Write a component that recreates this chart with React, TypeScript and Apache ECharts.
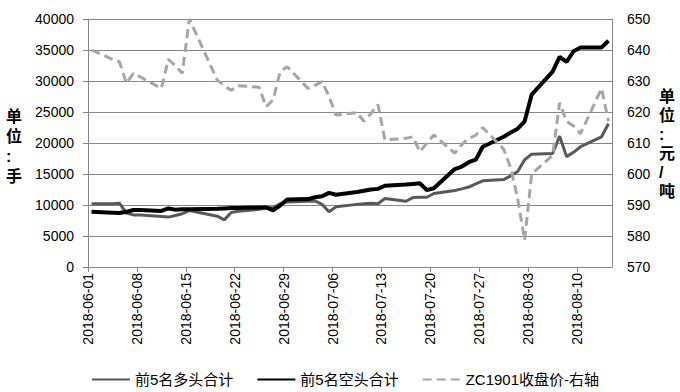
import React, { useEffect, useRef } from "react";
import * as echarts from "echarts";

const dates = [
  "2018-06-01", "2018-06-04", "2018-06-05", "2018-06-06", "2018-06-07", "2018-06-08",
  "2018-06-11", "2018-06-12", "2018-06-13", "2018-06-14", "2018-06-15",
  "2018-06-19", "2018-06-20", "2018-06-21", "2018-06-22",
  "2018-06-25", "2018-06-26", "2018-06-27", "2018-06-28", "2018-06-29",
  "2018-07-02", "2018-07-03", "2018-07-04", "2018-07-05", "2018-07-06",
  "2018-07-09", "2018-07-10", "2018-07-11", "2018-07-12", "2018-07-13",
  "2018-07-16", "2018-07-17", "2018-07-18", "2018-07-19", "2018-07-20",
  "2018-07-23", "2018-07-24", "2018-07-25", "2018-07-26", "2018-07-27",
  "2018-07-30", "2018-07-31", "2018-08-01", "2018-08-02", "2018-08-03",
  "2018-08-06", "2018-08-07", "2018-08-08", "2018-08-09", "2018-08-10",
  "2018-08-13", "2018-08-14",
];

const longTotal = [
  10200, 10200, 10300, 8700, 8400, 8400,
  8150, 8050, 8300, 8600, 9100,
  8200, 7600, 8800, 9000,
  9300, 9500, 9600, 10200, 10500,
  10600, 10650, 10100, 8900, 9700,
  10100, 10200, 10300, 10200, 11050,
  10600, 11200, 11250, 11250, 11850,
  12350, 12600, 12900, 13400, 13900,
  14100, 14700, 15400, 17300, 18200,
  18300, 21100, 17800, 18500, 19400,
  21000, 23100,
];

const shortTotal = [
  8900, 8750, 8700, 8900, 9200, 9200,
  9050, 9450, 9250, 9300, 9300,
  9400, 9450, 9500, 9500,
  9600, 9600, 9150, 9900, 10900,
  10950, 11250, 11400, 11950, 11650,
  12100, 12300, 12500, 12600, 13100,
  13300, 13400, 13500, 12400, 12700,
  15800, 16200, 16900, 17300, 19400,
  21000, 21700, 22300, 23500, 27800,
  31500, 33900, 33100, 34800, 35400,
  35400, 36500,
];

const closePrice = [
  640, 637, 636.2, 629.3, 632.5, 631.3,
  627.6, 637, 635, 632.5, 650,
  630.3, 628.5, 627, 628.5,
  628, 621.7, 624, 633, 634.6,
  627.6, 628.6, 629.8, 625, 619,
  619.8, 617, 619.5, 622.4, 611,
  611.5, 612, 607.2, 610, 612.6,
  606.7, 609.5, 611.5, 612.5, 615,
  608, 602, 592, 578.7, 600,
  606, 623, 617, 615.5, 613,
  627.6, 617,
];

const tickDates = [
  "2018-06-01", "2018-06-08", "2018-06-15", "2018-06-22", "2018-06-29", "2018-07-06",
  "2018-07-13", "2018-07-20", "2018-07-27", "2018-08-03", "2018-08-10",
];

const seriesNames = ["前5名多头合计", "前5名空头合计", "ZC1901收盘价-右轴"];

const START = Date.UTC(2018, 5, 1);
const DAY = 86400000;
const dayIndex = (s: string) =>
  (Date.UTC(+s.slice(0, 4), +s.slice(5, 7) - 1, +s.slice(8, 10)) - START) / DAY;
const indexToDate = (v: number) => {
  const d = new Date(START + Math.round(v) * DAY);
  const mm = String(d.getUTCMonth() + 1).padStart(2, "0");
  const dd = String(d.getUTCDate()).padStart(2, "0");
  return `${d.getUTCFullYear()}-${mm}-${dd}`;
};

const FONT = '"Liberation Sans", "Noto Sans CJK SC", sans-serif';
const AXIS_COLOR = "#868686";

export default function App() {
  const ref = useRef<HTMLDivElement>(null);

  useEffect(() => {
    document.body.style.margin = "0";
    if (!ref.current) return;
    const chart = echarts.init(ref.current, undefined, { renderer: "svg" });
    const ticks = tickDates.map(dayIndex);
    const pts = (vals: number[]) => dates.map((d, i) => [dayIndex(d) + 0.5, vals[i]]);

    chart.setOption({
      animation: false,
      textStyle: { fontFamily: FONT },
      grid: { left: 88, right: 68, top: 19, bottom: 125, containLabel: false },
      xAxis: {
        type: "value",
        min: 0,
        max: 75,
        axisLine: { show: true, lineStyle: { color: AXIS_COLOR, width: 1 } },
        axisTick: {
          show: true,
          customValues: ticks,
          length: 5,
          lineStyle: { color: AXIS_COLOR },
        },
        axisLabel: {
          customValues: ticks,
          rotate: 90,
          formatter: (v: number) => indexToDate(v),
          color: "#000",
          fontSize: 14,
          fontFamily: FONT,
          margin: 6,
        },
        splitLine: { show: false },
      },
      yAxis: [
        {
          type: "value",
          min: 0,
          max: 40000,
          interval: 5000,
          axisLine: { show: true, lineStyle: { color: AXIS_COLOR } },
          axisTick: { show: true, length: 5, lineStyle: { color: AXIS_COLOR } },
          axisLabel: {
            color: "#000",
            fontSize: 14,
            fontFamily: FONT,
            margin: 14,
            formatter: (v: number) => String(v),
          },
          splitLine: { show: true, lineStyle: { color: AXIS_COLOR, width: 1 } },
        },
        {
          type: "value",
          min: 570,
          max: 650,
          interval: 10,
          position: "right",
          axisLine: { show: true, lineStyle: { color: AXIS_COLOR } },
          axisTick: { show: false },
          axisLabel: {
            color: "#000",
            fontSize: 14,
            fontFamily: FONT,
            margin: 15,
            formatter: (v: number) => String(v),
          },
          splitLine: { show: false },
        },
      ],
      legend: {
        left: 86,
        top: 367,
        itemWidth: 38,
        itemHeight: 14,
        itemGap: 23,
        itemStyle: { opacity: 0 },
        textStyle: { fontSize: 15, color: "#000", fontFamily: FONT },
        data: seriesNames,
      },
      series: [
        {
          name: seriesNames[0],
          type: "line",
          data: pts(longTotal),
          symbol: "none",
          itemStyle: { color: "#595959" },
          lineStyle: { color: "#595959", width: 3 },
        },
        {
          name: seriesNames[1],
          type: "line",
          data: pts(shortTotal),
          symbol: "none",
          itemStyle: { color: "#000000" },
          lineStyle: { color: "#000000", width: 4 },
        },
        {
          name: seriesNames[2],
          type: "line",
          yAxisIndex: 1,
          data: pts(closePrice),
          symbol: "none",
          itemStyle: { color: "#a6a6a6" },
          lineStyle: { color: "#a6a6a6", width: 3, type: [9, 5] },
        },
      ],
      graphic: [
        {
          type: "text",
          left: 6,
          top: 106,
          style: {
            text: "单\n位\n:\n手",
            font: `bold 16px ${FONT}`,
            lineHeight: 20,
            align: "center",
            fill: "#000",
          },
        },
        {
          type: "text",
          left: 659,
          top: 87,
          style: {
            text: "单\n位\n:\n元\n/\n吨",
            font: `bold 16px ${FONT}`,
            lineHeight: 19,
            align: "center",
            fill: "#000",
          },
        },
      ],
    });

    return () => chart.dispose();
  }, []);

  return <div ref={ref} style={{ width: 680, height: 392 }} />;
}
